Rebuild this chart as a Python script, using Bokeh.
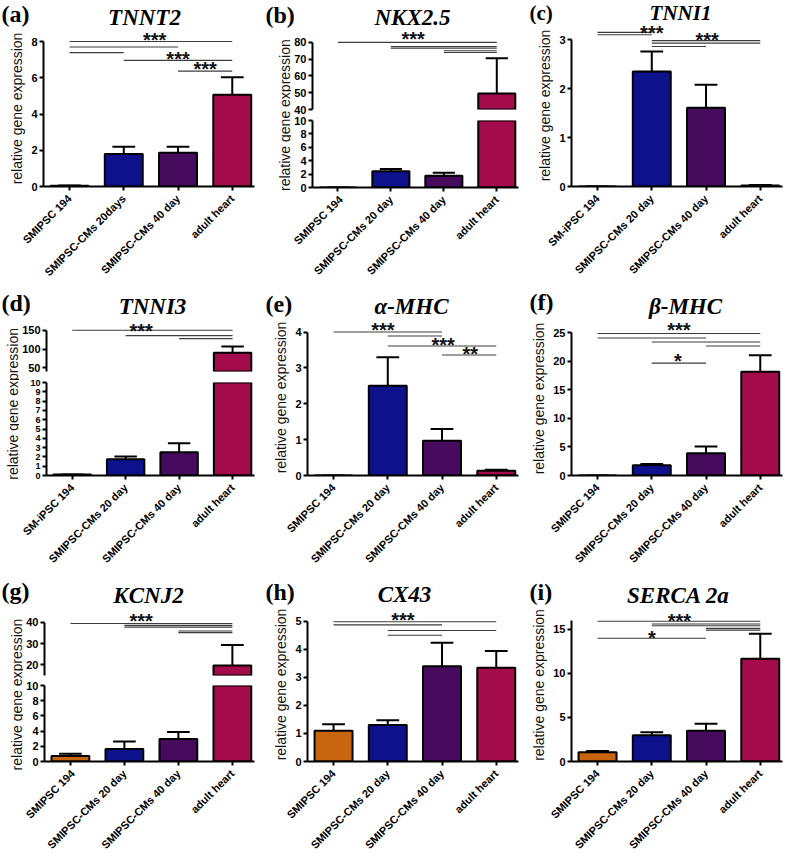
import math
from bokeh.plotting import figure
from bokeh.models import Range1d, FixedTicker
from bokeh.layouts import row, column
from bokeh.embed import file_html
from bokeh.resources import INLINE
from bokeh.core.properties import value

# ---------------- categories ----------------
cats_a = ["SMIPSC 194", "SMIPSC-CMs 20days", "SMIPSC-CMs 40 day", "adult heart"]
cats_std = ["SMIPSC 194", "SMIPSC-CMs 20 day", "SMIPSC-CMs 40 day", "adult heart"]
cats_c = ["SM-iPSC 194", "SMIPSC-CMs 20 day", "SMIPSC-CMs 40 day", "adult heart"]
bar_colors = ["#c8650f", "#0d118c", "#470b5e", "#a30b4b"]

# ---------------- values (mean, error) ----------------
tnnt2_mean = [0.04, 1.80, 1.86, 5.06]
tnnt2_err = [0.01, 0.40, 0.34, 0.97]
nkx25_mean = [0.0, 2.44, 1.75, 49.5]
nkx25_err = [0.0, 0.33, 0.44, 21.0]
tnni1_mean = [0.0, 2.35, 1.61, 0.02]
tnni1_err = [0.0, 0.41, 0.47, 0.01]
tnni3_mean = [0.10, 1.75, 2.50, 90.0]
tnni3_err = [0.02, 0.29, 0.97, 17.0]
amhc_mean = [0.0, 2.50, 0.97, 0.13]
amhc_err = [0.0, 0.80, 0.33, 0.03]
bmhc_mean = [0.0, 1.80, 3.90, 18.2]
bmhc_err = [0.0, 0.20, 1.20, 2.9]
kcnj2_mean = [0.72, 1.65, 2.97, 19.7]
kcnj2_err = [0.31, 0.99, 0.91, 9.7]
cx43_mean = [1.10, 1.30, 3.40, 3.34]
cx43_err = [0.23, 0.17, 0.83, 0.60]
serca_mean = [1.04, 2.99, 3.48, 11.64]
serca_err = [0.16, 0.34, 0.81, 2.86]

# ---------------- significance bars: (group from, group to, level) ----------------
tnnt2_sig = [(0, 3, 8.0), (0, 2, 7.7), (0, 1, 7.39), (1, 3, 6.96), (2, 3, 6.37)]
nkx25_sig = [(0, 3, 80.0), (1, 3, 77.6), (1, 3, 76.6), (2, 3, 75.0), (2, 3, 74.0)]
tnni1_sig = [(0, 1, 3.15), (0, 1, 3.10), (1, 3, 2.98), (1, 3, 2.93), (1, 2, 2.86)]
tnni3_sig = [(0, 3, 150.0), (1, 3, 135.8), (2, 3, 127.7)]
amhc_sig = [(0, 2, 4.0), (1, 2, 3.89), (1, 3, 3.61), (2, 3, 3.36)]
bmhc_sig = [(0, 3, 24.9), (0, 2, 24.1), (1, 3, 23.4), (2, 3, 22.7), (1, 2, 19.7)]
kcnj2_sig = [(0, 3, 39.5), (1, 3, 38.6), (1, 3, 37.8), (2, 3, 36.0), (2, 3, 35.2)]
cx43_sig = [(0, 3, 4.98), (0, 2, 4.87), (1, 3, 4.67), (1, 2, 4.5)]
serca_sig = [(0, 3, 15.9), (1, 3, 15.6), (1, 3, 15.4), (2, 3, 15.1), (2, 3, 14.9), (0, 2, 13.97)]

# ---------------- star labels: (x, level, text) ----------------
tnnt2_stars = [(1.57, 8.33, "***"), (2.0, 7.28, "***"), (2.5, 6.68, "***")]
nkx25_stars = [(1.42, 84.4, "***")]
tnni1_stars = [(1.0, 3.22, "***"), (2.02, 3.08, "***")]
tnni3_stars = [(1.29, 160.0, "***")]
amhc_stars = [(0.91, 4.16, "***"), (2.02, 3.74, "***"), (2.52, 3.49, "**")]
bmhc_stars = [(1.5, 26.2, "***"), (1.48, 20.7, "*")]
kcnj2_stars = [(1.31, 42.4, "***")]
cx43_stars = [(1.28, 5.2, "***")]
serca_stars = [(1.51, 16.4, "***"), (1.0, 14.5, "*")]

# ---------------- layout helpers ----------------
CELL_W, CELL_H = 264, 286
FRAME_L = 43
FRAME_W = 211
RIGHT = CELL_W - FRAME_L - FRAME_W
X_RANGE = (-0.48, 3.41)
xs = [0, 1, 2, 3]
SANS = "Liberation Sans"
SERIF = "Liberation Serif"
YLABEL = "relative gene expression"


def r(v):
    return int(round(v))


def base_style(p):
    p.outline_line_color = None
    p.grid.visible = False
    p.background_fill_color = "white"
    p.border_fill_color = "white"


def style_axis(ax, size="11px"):
    ax.axis_line_width = 2
    ax.axis_line_color = "black"
    ax.major_tick_line_width = 2
    ax.major_tick_line_color = "black"
    ax.major_tick_out = 4
    ax.major_tick_in = 0
    ax.minor_tick_line_color = None
    ax.major_label_text_font = SANS
    ax.major_label_text_font_style = "bold"
    ax.major_label_text_font_size = size
    ax.major_label_text_color = "black"
    ax.major_label_standoff = 2


def style_x(p, cats):
    ax = p.xaxis[0]
    style_axis(ax)
    ax.ticker = FixedTicker(ticks=xs)
    ax.major_label_overrides = {i: c for i, c in zip(xs, cats)}
    ax.major_label_orientation = math.pi / 4
    ax.major_label_standoff = 6


def style_y(p, ticks, bounds, label=None, size="11px"):
    ax = p.yaxis[0]
    style_axis(ax, size)
    ax.ticker = FixedTicker(ticks=ticks)
    ax.bounds = bounds
    if label:
        ax.axis_label = label
        ax.axis_label_text_font = SANS
        ax.axis_label_text_font_style = "normal"
        ax.axis_label_text_font_size = "14px"
        ax.axis_label_text_color = "#111111"
        ax.axis_label_standoff = 3


def draw_bars(p, mean, err, lo=None):
    idx = [i for i in range(len(mean)) if lo is None or mean[i] > lo]
    bx = [xs[i] for i in idx]
    bm = [mean[i] for i in idx]
    tops = [mean[i] + err[i] for i in idx]
    cols = [bar_colors[i] for i in idx]
    p.segment(x0=bx, y0=bm, x1=bx, y1=tops, line_color="black", line_width=2)
    p.segment(x0=[x - 0.21 for x in bx], y0=tops, x1=[x + 0.21 for x in bx], y1=tops,
              line_color="black", line_width=2)
    p.vbar(x=bx, top=bm, bottom=0, width=0.7, fill_color=cols,
           line_color="black", line_width=2)


def draw_sig(p, sig, stars):
    p.segment(x0=[s[0] for s in sig], x1=[s[1] for s in sig],
              y0=[s[2] for s in sig], y1=[s[2] for s in sig],
              line_color="#3c3c3c", line_width=1.1)
    p.text(x=[s[0] for s in stars], y=[s[1] for s in stars], text=[s[2] for s in stars],
           text_font=value(SANS), text_font_size="20px", text_font_style="bold",
           text_align="center", text_baseline="middle", y_offset=4, text_color="#111111")


def empty_fig(w, h):
    f = figure(width=w, height=h, x_range=Range1d(0, w), y_range=Range1d(0, h),
               x_axis_location=None, y_axis_location=None, output_backend="svg",
               toolbar_location=None, min_border=0, title=None)
    base_style(f)
    return f


def mid_from_top(base, ht, size):
    # vertical middle of a title line (about 1/3 em above its baseline),
    # kept inside the strip
    half = 0.56 * size
    m = base - 0.34 * size
    if ht >= 2 * half:
        m = min(max(m, half), ht - half)
    return m


def title_fig(sp):
    ht = r(sp["split_t"])
    ts, gs = sp.get("tag_size", 24), sp.get("gene_size", 23)
    tf = empty_fig(CELL_W, ht)
    tf.text(x=[1], y=[ht - mid_from_top(sp["tag_base"], ht, ts)], text=[sp["tag"]],
            text_font=value(SERIF), text_font_style="bold", text_font_size=f"{ts}px",
            text_align="left", text_baseline="middle", text_color="black")
    tf.text(x=[sp["gene_cx"]], y=[ht - mid_from_top(sp["gene_base"], ht, gs)], text=[sp["gene"]],
            text_font=value(SERIF), text_font_style="bold italic", text_font_size=f"{gs}px",
            text_align="center", text_baseline="middle", text_color="black")
    return row(tf), ht


def std_panel(sp):
    tf, ht = title_fig(sp)
    Z = r(sp["Z"])
    p = figure(width=CELL_W, height=CELL_H - ht, x_range=Range1d(*X_RANGE),
               y_range=Range1d(0, sp["yend"]), output_backend="svg", toolbar_location=None,
               title=None,
               min_border_left=FRAME_L, min_border_right=RIGHT,
               min_border_top=0, min_border_bottom=CELL_H - Z)
    base_style(p)
    style_x(p, sp["cats"])
    style_y(p, sp["yticks"], sp["ybounds"], label=YLABEL)
    draw_bars(p, sp["mean"], sp["err"])
    draw_sig(p, sp["sig"], sp["stars"])
    return column(tf, row(p))


def broken_panel(sp):
    tf, ht = title_fig(sp)
    hs = r(sp["split"])
    lw = r(sp["lab_w"])

    lfig = empty_fig(lw, CELL_H - ht)
    lfig.text(x=[lw - 7], y=[CELL_H - sp["axis_mid"]], text=[YLABEL],
              angle=math.pi / 2, text_align="center", text_baseline="middle",
              text_font=value(SANS), text_font_size="14px", text_color="#111111")

    xr = Range1d(*X_RANGE)
    up = figure(width=CELL_W - lw, height=hs - ht, x_range=xr, y_range=Range1d(*sp["up_range"]),
                x_axis_location=None, output_backend="svg", toolbar_location=None, title=None,
                min_border_left=FRAME_L - lw, min_border_right=RIGHT,
                min_border_top=0, min_border_bottom=hs - r(sp["up_bottom"]))
    base_style(up)
    style_y(up, sp["up_ticks"], sp["up_bounds"])
    draw_bars(up, sp["mean"], sp["err"], lo=sp["up_range"][0])
    draw_sig(up, sp["sig"], sp["stars"])

    low = figure(width=CELL_W - lw, height=CELL_H - hs, x_range=xr, y_range=Range1d(0, 10),
                 output_backend="svg", toolbar_location=None, title=None,
                 min_border_left=FRAME_L - lw, min_border_right=RIGHT,
                 min_border_top=r(sp["low_top"]) - hs, min_border_bottom=CELL_H - r(sp["Z"]))
    base_style(low)
    style_x(low, sp["cats"])
    style_y(low, sp["low_ticks"], (0, 10), size=sp.get("low_size", "11px"))
    draw_bars(low, sp["mean"], sp["err"])

    return column(tf, row(lfig, column(up, low)))


panels = [
    dict(kind="std", tag="(a)", gene="TNNT2", cats=cats_a, mean=tnnt2_mean, err=tnnt2_err,
         sig=tnnt2_sig, stars=tnnt2_stars, yticks=[0, 2, 4, 6, 8], ybounds=(0, 8), yend=8.61,
         Z=186, split_t=30, tag_base=21, gene_cx=144, gene_base=25),
    dict(kind="broken", tag="(b)", gene="NKX2.5", cats=cats_std, mean=nkx25_mean, err=nkx25_err,
         sig=nkx25_sig, stars=nkx25_stars, low_ticks=[0, 2, 4, 6, 8, 10],
         up_ticks=[40, 50, 60, 70, 80], up_bounds=(40, 80), up_range=(40, 87.1),
         Z=187, low_top=120, up_bottom=109, split=114.5, split_t=30.5, lab_w=27, axis_mid=114.6,
         tag_base=23, gene_cx=148, gene_base=26),
    dict(kind="std", tag="(c)", gene="TNNI1", cats=cats_c, mean=tnni1_mean, err=tnni1_err,
         sig=tnni1_sig, stars=tnni1_stars, yticks=[0, 1, 2, 3], ybounds=(0, 3), yend=3.31,
         Z=186, split_t=24, tag_base=20, gene_cx=152, gene_base=22,
         tag_size=21, gene_size=21),
    dict(kind="broken", tag="(d)", gene="TNNI3", cats=cats_c, mean=tnni3_mean, err=tnni3_err,
         sig=tnni3_sig, stars=tnni3_stars, low_ticks=list(range(0, 11)), low_size="9px",
         up_ticks=[50, 100, 150], up_bounds=(40, 150), up_range=(40, 178.7),
         Z=190.7, low_top=95.7, up_bottom=84.7, split=90, split_t=33, lab_w=19, axis_mid=117.4,
         tag_base=25, gene_cx=152, gene_base=29),
    dict(kind="std", tag="(e)", gene="\u03b1-MHC", cats=cats_std, mean=amhc_mean, err=amhc_err,
         sig=amhc_sig, stars=amhc_stars, yticks=[0, 1, 2, 3, 4], ybounds=(0, 4), yend=4.35,
         Z=190, split_t=33, tag_base=26, gene_cx=147, gene_base=28),
    dict(kind="std", tag="(f)", gene="\u03b2-MHC", cats=cats_std, mean=bmhc_mean, err=bmhc_err,
         sig=bmhc_sig, stars=bmhc_stars, yticks=[0, 5, 10, 15, 20, 25], ybounds=(0, 25), yend=27.0,
         Z=191, split_t=35, tag_base=24, gene_cx=157, gene_base=28),
    dict(kind="broken", tag="(g)", gene="KCNJ2", cats=cats_std, mean=kcnj2_mean, err=kcnj2_err,
         sig=kcnj2_sig, stars=kcnj2_stars, low_ticks=[0, 2, 4, 6, 8, 10],
         up_ticks=[20, 30, 40], up_bounds=(15, 40), up_range=(15, 46.1),
         Z=194, low_top=113.3, up_bottom=103.3, split=108.3, split_t=37, lab_w=23, axis_mid=122,
         tag_base=27, gene_cx=148, gene_base=31),
    dict(kind="std", tag="(h)", gene="CX43", cats=cats_std, mean=cx43_mean, err=cx43_err,
         sig=cx43_sig, stars=cx43_stars, yticks=[0, 1, 2, 3, 4, 5], ybounds=(0, 5), yend=5.49,
         Z=193.3, split_t=35, tag_base=28, gene_cx=140, gene_base=31),
    dict(kind="std", tag="(i)", gene="SERCA 2a", cats=cats_std, mean=serca_mean, err=serca_err,
         sig=serca_sig, stars=serca_stars, yticks=[0, 5, 10, 15], ybounds=(0, 16), yend=17.35,
         Z=192.7, split_t=36, tag_base=28, gene_cx=150, gene_base=32),
]

cells = [std_panel(sp) if sp["kind"] == "std" else broken_panel(sp) for sp in panels]
layout = column(row(*cells[0:3]), row(*cells[3:6]), row(*cells[6:9]))

open("out.html", "w").write(file_html(layout, INLINE))
